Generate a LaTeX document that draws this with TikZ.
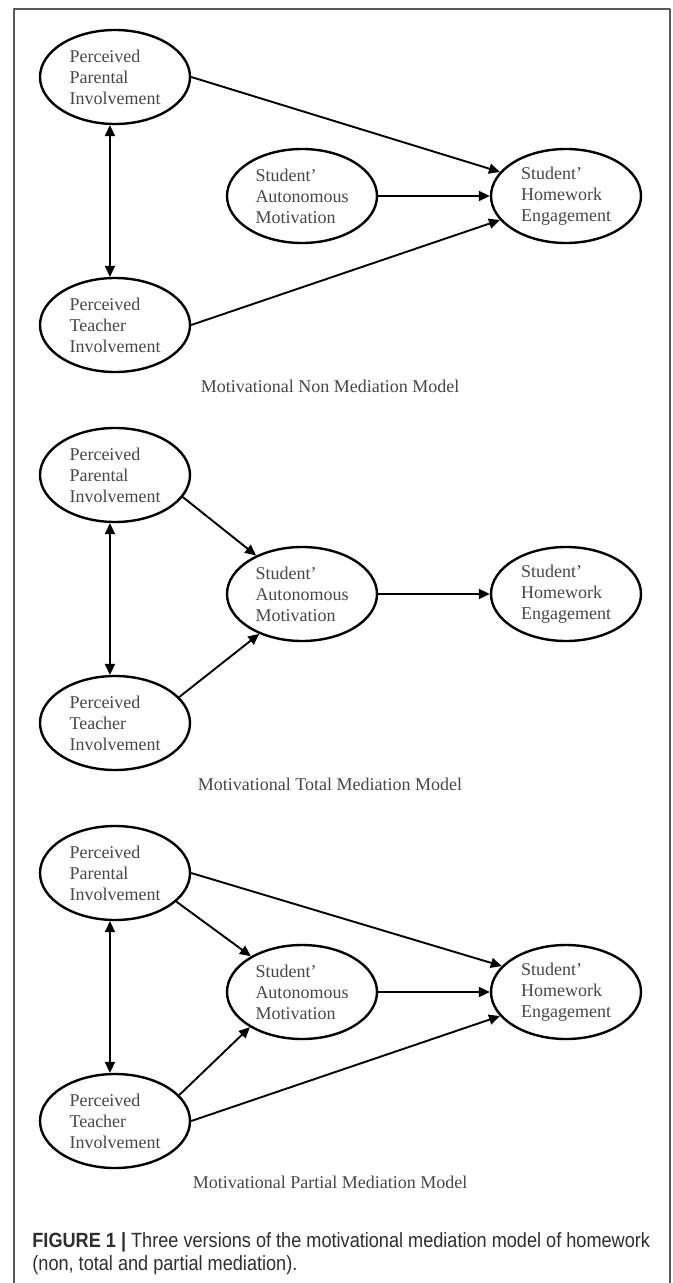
\documentclass[tikz,border=0pt]{standalone}
\usepackage{fontspec}
\setmainfont{Liberation Serif}
\newfontfamily\capfont[FakeStretch=0.88]{Liberation Sans}
\usetikzlibrary{shapes.geometric,arrows.meta}

\begin{document}
\begin{tikzpicture}[x=0.5pt,y=-0.5pt,line join=round,
	latent/.style={ellipse,draw,line width=1.2pt,minimum width=75pt,minimum height=47pt,inner sep=0pt,align=left,font=\fontsize{9}{10.5}\selectfont,text=black!72},
	path/.style={line width=0.95pt,-{Triangle[length=5.5pt,width=5pt]}},
	both/.style={line width=0.95pt,{Triangle[length=5.5pt,width=5pt]}-{Triangle[length=5.5pt,width=5pt]}},
	model/.style={font=\fontsize{9}{10.5}\selectfont,text=black!72},
	capline/.style={anchor=base west,inner sep=0pt,font=\capfont\fontsize{10.3}{12}\selectfont,text=black!82}]
	\useasboundingbox (0,0) rectangle (673,1283);
	\draw[black!65,line width=0.8pt] (14,1283) -- (14,9) -- (670,9) -- (670,1283);
	% the three panels share one layout
	\foreach \i/\dy/\kind in {1/0/Non,2/398/Total,3/796/Partial}{
		\node[latent] (par\i) at (115,77+\dy) {Perceived\\Parental\\Involvement};
		\node[latent] (tea\i) at (115,325+\dy) {Perceived\\Teacher\\Involvement};
		\node[latent] (aut\i) at (302,196+\dy) {Student'\\Autonomous\\Motivation};
		\node[latent] (hom\i) at (566,196+\dy) {Student'\\Homework\\Engagement};
		\node[model] (lab\i) at (330,386+\dy) {Motivational \kind\ Mediation Model};
		\draw[both] (par\i.264) -- (tea\i.96);
		\draw[path] (aut\i.east) -- (hom\i.west);
	}
	% non mediation
	\draw[path] (par1.east) -- (hom1.160);
	\draw[path] (tea1.east) -- (hom1.200);
	% total mediation
	\draw[path] (par2.-18) -- (aut2.140);
	\draw[path] (tea2.22) -- (aut2.223);
	% partial mediation
	\draw[path] (par3.-25) -- (aut3.145);
	\draw[path] (par3.east) -- (hom3.158);
	\draw[path] (tea3.22) -- (aut3.214);
	\draw[path] (tea3.east) -- (hom3.200);
	\node[capline] (cap1) at (32,1247) {\textbf{FIGURE 1 |} Three versions of the motivational mediation model of homework};
	\node[capline] (cap2) at (32,1270) {(non, total and partial mediation).};
\end{tikzpicture}
\end{document}
